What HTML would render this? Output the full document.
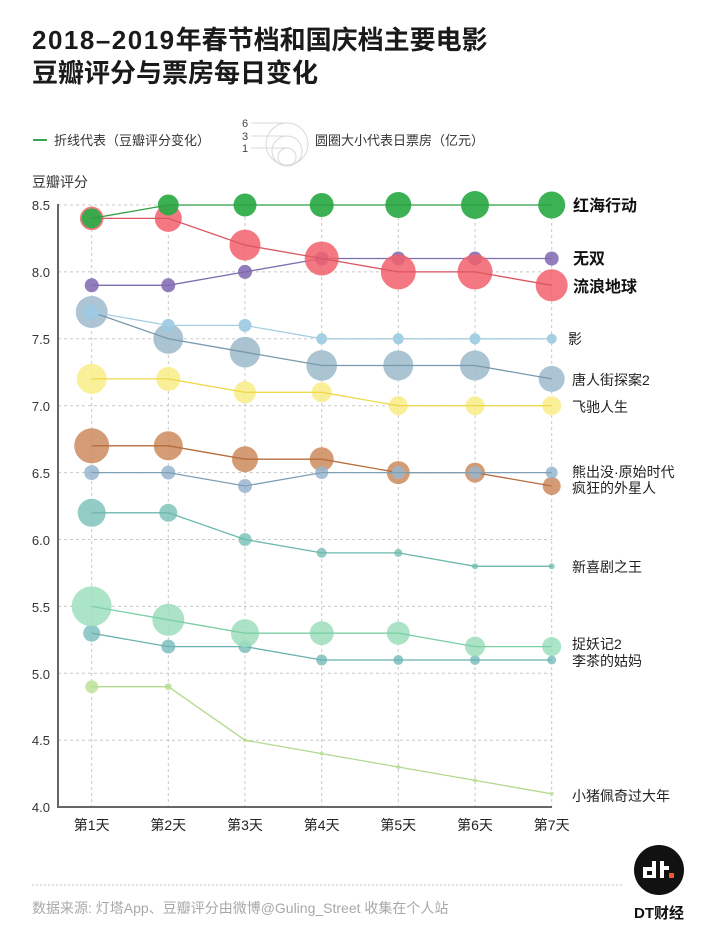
<!DOCTYPE html>
<html><head><meta charset="utf-8">
<style>
html,body{margin:0;padding:0;background:#fff;}
body{width:718px;height:933px;overflow:hidden;position:relative;font-family:"Liberation Sans","Noto Sans CJK SC",sans-serif;}
svg{position:absolute;left:0;top:0;}
</style></head>
<body>
<svg width="718" height="933" viewBox="0 0 718 933" xmlns="http://www.w3.org/2000/svg" font-family="Liberation Sans, Noto Sans CJK SC, sans-serif">
<rect width="718" height="933" fill="#fff"/>
<!-- Title -->
<text x="32" y="49" font-size="26" font-weight="bold" fill="#1a1a1a"><tspan letter-spacing="1.5">2018–2019</tspan>年春节档和国庆档主要电影</text>
<text x="32" y="82" font-size="26" font-weight="bold" fill="#1a1a1a">豆瓣评分与票房每日变化</text>

<!-- Legend -->
<line x1="33" y1="140" x2="47" y2="140" stroke="#3aa555" stroke-width="2"/>
<text x="54" y="145" font-size="13" fill="#333">折线代表（豆瓣评分变化）</text>
<text x="245" y="127" font-size="11" fill="#444" text-anchor="middle">6</text>
<text x="245" y="140" font-size="11" fill="#444" text-anchor="middle">3</text>
<text x="245" y="152" font-size="11" fill="#444" text-anchor="middle">1</text>
<g stroke="#d8d8d8" fill="none" stroke-width="1">
<line x1="251" y1="123" x2="287" y2="123"/>
<line x1="251" y1="136" x2="287" y2="136"/>
<line x1="251" y1="148" x2="287" y2="148"/>
<circle cx="287" cy="144" r="21"/>
<circle cx="287" cy="151" r="15"/>
<circle cx="287" cy="157" r="9"/>
</g>
<text x="315" y="145" font-size="13" fill="#333">圆圈大小代表日票房（亿元）</text>

<text x="32" y="187" font-size="14" fill="#333">豆瓣评分</text>

<!-- Grid -->
<g stroke="#c8c8c8" stroke-width="1" stroke-dasharray="3,3">
<line x1="58" y1="205" x2="552" y2="205"/>
<line x1="58" y1="271.9" x2="552" y2="271.9"/>
<line x1="58" y1="338.8" x2="552" y2="338.8"/>
<line x1="58" y1="405.7" x2="552" y2="405.7"/>
<line x1="58" y1="472.6" x2="552" y2="472.6"/>
<line x1="58" y1="539.5" x2="552" y2="539.5"/>
<line x1="58" y1="606.4" x2="552" y2="606.4"/>
<line x1="58" y1="673.3" x2="552" y2="673.3"/>
<line x1="58" y1="740.2" x2="552" y2="740.2"/>
<line x1="91.7" y1="205" x2="91.7" y2="807"/>
<line x1="168.3" y1="205" x2="168.3" y2="807"/>
<line x1="245" y1="205" x2="245" y2="807"/>
<line x1="321.7" y1="205" x2="321.7" y2="807"/>
<line x1="398.3" y1="205" x2="398.3" y2="807"/>
<line x1="475" y1="205" x2="475" y2="807"/>
<line x1="551.7" y1="205" x2="551.7" y2="807"/>
</g>
<!-- Axes -->
<line x1="58" y1="204" x2="58" y2="808" stroke="#666" stroke-width="2"/>
<line x1="57" y1="807" x2="552" y2="807" stroke="#666" stroke-width="2"/>

<!-- Y tick labels -->
<g font-size="13" fill="#333" text-anchor="end">
<text x="50" y="210">8.5</text>
<text x="50" y="277">8.0</text>
<text x="50" y="344">7.5</text>
<text x="50" y="411">7.0</text>
<text x="50" y="478">6.5</text>
<text x="50" y="545">6.0</text>
<text x="50" y="612">5.5</text>
<text x="50" y="679">5.0</text>
<text x="50" y="745">4.5</text>
<text x="50" y="812">4.0</text>
</g>
<!-- X labels -->
<g font-size="14" fill="#222" text-anchor="middle">
<text x="91.7" y="830">第1天</text>
<text x="168.3" y="830">第2天</text>
<text x="245" y="830">第3天</text>
<text x="321.7" y="830">第4天</text>
<text x="398.3" y="830">第5天</text>
<text x="475" y="830">第6天</text>
<text x="551.7" y="830">第7天</text>
</g>

<!-- 小猪佩奇过大年 -->
<g fill="#c3e5a2" opacity="0.95">
<circle cx="91.7" cy="686.7" r="6.5"/><circle cx="168.3" cy="686.7" r="3.5"/><circle cx="245" cy="740.2" r="2"/><circle cx="321.7" cy="753.6" r="2"/><circle cx="398.3" cy="767" r="2"/><circle cx="475" cy="780.4" r="2"/><circle cx="551.7" cy="793.8" r="2"/>
</g>
<polyline points="91.7,686.7 168.3,686.7 245,740.2 321.7,753.6 398.3,767 475,780.4 551.7,793.8" fill="none" stroke="#b3da8e" stroke-width="1.3"/>

<!-- 李茶的姑妈 -->
<g fill="#7fbfbf" opacity="0.85">
<circle cx="91.7" cy="633.2" r="8.5"/><circle cx="168.3" cy="646.6" r="7"/><circle cx="245" cy="646.6" r="6.5"/><circle cx="321.7" cy="660" r="5.5"/><circle cx="398.3" cy="660" r="5"/><circle cx="475" cy="660" r="5"/><circle cx="551.7" cy="660" r="4.5"/>
</g>
<polyline points="91.7,633.2 168.3,646.6 245,646.6 321.7,660 398.3,660 475,660 551.7,660" fill="none" stroke="#6ab2b0" stroke-width="1.3"/>

<!-- 捉妖记2 -->
<g fill="#9edfbe" opacity="0.85">
<circle cx="91.7" cy="606.4" r="20"/><circle cx="168.3" cy="619.8" r="16"/><circle cx="245" cy="633.2" r="14"/><circle cx="321.7" cy="633.2" r="12"/><circle cx="398.3" cy="633.2" r="11.5"/><circle cx="475" cy="646.6" r="10"/><circle cx="551.7" cy="646.6" r="9.5"/>
</g>
<polyline points="91.7,606.4 168.3,619.8 245,633.2 321.7,633.2 398.3,633.2 475,646.6 551.7,646.6" fill="none" stroke="#7ccfa6" stroke-width="1.3"/>

<!-- 新喜剧之王 -->
<g fill="#86c7bf" opacity="0.9">
<circle cx="91.7" cy="512.8" r="14"/><circle cx="168.3" cy="512.8" r="9"/><circle cx="245" cy="539.5" r="6.5"/><circle cx="321.7" cy="552.9" r="5"/><circle cx="398.3" cy="552.9" r="4"/><circle cx="475" cy="566.3" r="3"/><circle cx="551.7" cy="566.3" r="3"/>
</g>
<polyline points="91.7,512.8 168.3,512.8 245,539.5 321.7,552.9 398.3,552.9 475,566.3 551.7,566.3" fill="none" stroke="#6bb8ad" stroke-width="1.3"/>

<!-- 疯狂的外星人 -->
<g fill="#cd8b5e" opacity="0.85">
<circle cx="91.7" cy="445.8" r="17.5"/><circle cx="168.3" cy="445.8" r="14.5"/><circle cx="245" cy="459.2" r="13"/><circle cx="321.7" cy="459.2" r="12"/><circle cx="398.3" cy="472.6" r="11.5"/><circle cx="475" cy="472.6" r="10"/><circle cx="551.7" cy="486" r="9"/>
</g>
<polyline points="91.7,445.8 168.3,445.8 245,459.2 321.7,459.2 398.3,472.6 475,472.6 551.7,486" fill="none" stroke="#b66c3c" stroke-width="1.3"/>

<!-- 熊出没 -->
<g fill="#9ab6cf" opacity="0.85">
<circle cx="91.7" cy="472.6" r="7.5"/><circle cx="168.3" cy="472.6" r="7"/><circle cx="245" cy="486" r="7"/><circle cx="321.7" cy="472.6" r="6.5"/><circle cx="398.3" cy="472.6" r="6.5"/><circle cx="475" cy="472.6" r="6.5"/><circle cx="551.7" cy="472.6" r="6"/>
</g>
<polyline points="91.7,472.6 168.3,472.6 245,486 321.7,472.6 398.3,472.6 475,472.6 551.7,472.6" fill="none" stroke="#7f9fb5" stroke-width="1.3"/>

<!-- 飞驰人生 -->
<g fill="#faee8e" opacity="0.9">
<circle cx="91.7" cy="378.9" r="15"/><circle cx="168.3" cy="378.9" r="12"/><circle cx="245" cy="392.3" r="11"/><circle cx="321.7" cy="392.3" r="10"/><circle cx="398.3" cy="405.7" r="9.5"/><circle cx="475" cy="405.7" r="9.5"/><circle cx="551.7" cy="405.7" r="9.5"/>
</g>
<polyline points="91.7,378.9 168.3,378.9 245,392.3 321.7,392.3 398.3,405.7 475,405.7 551.7,405.7" fill="none" stroke="#eed84c" stroke-width="1.3"/>

<!-- 唐人街探案2 -->
<g fill="#a3bece" opacity="0.9">
<circle cx="91.7" cy="312" r="16"/><circle cx="168.3" cy="338.8" r="15"/><circle cx="245" cy="352.2" r="15.3"/><circle cx="321.7" cy="365.5" r="15.3"/><circle cx="398.3" cy="365.5" r="15"/><circle cx="475" cy="365.5" r="15"/><circle cx="551.7" cy="378.9" r="13"/>
</g>
<polyline points="91.7,312 168.3,338.8 245,352.2 321.7,365.5 398.3,365.5 475,365.5 551.7,378.9" fill="none" stroke="#7899ab" stroke-width="1.3"/>

<!-- 影 -->
<g fill="#9ccae3" opacity="0.9">
<circle cx="91.7" cy="312" r="7.5"/><circle cx="168.3" cy="325.4" r="6.5"/><circle cx="245" cy="325.4" r="6.5"/><circle cx="321.7" cy="338.8" r="5.5"/><circle cx="398.3" cy="338.8" r="5.5"/><circle cx="475" cy="338.8" r="5.5"/><circle cx="551.7" cy="338.8" r="5"/>
</g>
<polyline points="91.7,312 168.3,325.4 245,325.4 321.7,338.8 398.3,338.8 475,338.8 551.7,338.8" fill="none" stroke="#a6cfe2" stroke-width="1.3"/>

<!-- 无双 -->
<g fill="#8670b5" opacity="0.9">
<circle cx="91.7" cy="285.3" r="7"/><circle cx="168.3" cy="285.3" r="7"/><circle cx="245" cy="271.9" r="7"/><circle cx="321.7" cy="258.5" r="7"/><circle cx="398.3" cy="258.5" r="7"/><circle cx="475" cy="258.5" r="7"/><circle cx="551.7" cy="258.5" r="7"/>
</g>
<polyline points="91.7,285.3 168.3,285.3 245,271.9 321.7,258.5 398.3,258.5 475,258.5 551.7,258.5" fill="none" stroke="#7e6cb0" stroke-width="1.3"/>

<!-- 流浪地球 -->
<g fill="#f2616c" opacity="0.85">
<circle cx="91.7" cy="218.4" r="11"/><circle cx="168.3" cy="218.4" r="13.5"/><circle cx="245" cy="245.1" r="15.5"/><circle cx="321.7" cy="258.5" r="17"/><circle cx="398.3" cy="271.9" r="17.5"/><circle cx="475" cy="271.9" r="17.5"/><circle cx="551.7" cy="285.3" r="16"/>
</g>
<circle cx="91.7" cy="218.4" r="11" fill="none" stroke="#f07a80" stroke-width="1.5"/>
<polyline points="91.7,218.4 168.3,218.4 245,245.1 321.7,258.5 398.3,271.9 475,271.9 551.7,285.3" fill="none" stroke="#dc5662" stroke-width="1.3"/>

<!-- 红海行动 -->
<g fill="#2bab46" opacity="0.92">
<circle cx="91.7" cy="218.4" r="10"/><circle cx="168.3" cy="205" r="10.5"/><circle cx="245" cy="205" r="11.5"/><circle cx="321.7" cy="205" r="12"/><circle cx="398.3" cy="205" r="13"/><circle cx="475" cy="205" r="14"/><circle cx="551.7" cy="205" r="13.5"/>
</g>
<polyline points="91.7,218.4 168.3,205 245,205 321.7,205 398.3,205 475,205 551.7,205" fill="none" stroke="#2f9e46" stroke-width="1.3"/>

<!-- Right labels -->
<g fill="#111" font-weight="bold" font-size="16">
<text x="573" y="211">红海行动</text>
<text x="573" y="264">无双</text>
<text x="573" y="292">流浪地球</text>
</g>
<g fill="#222" font-size="14">
<text x="568" y="344">影</text>
<text x="572" y="385">唐人街探案2</text>
<text x="572" y="412">飞驰人生</text>
<text x="572" y="477">熊出没·原始时代</text>
<text x="572" y="493">疯狂的外星人</text>
<text x="572" y="572">新喜剧之王</text>
<text x="572" y="649">捉妖记2</text>
<text x="572" y="666">李茶的姑妈</text>
<text x="572" y="801">小猪佩奇过大年</text>
</g>

<!-- Footer -->
<line x1="32" y1="885" x2="623" y2="885" stroke="#c8c8c8" stroke-width="1" stroke-dasharray="2,2"/>
<text x="32" y="913" font-size="14" fill="#a8a8a8">数据来源: 灯塔App、豆瓣评分由微博@Guling_Street 收集在个人站</text>

<!-- Logo -->
<circle cx="659" cy="870" r="25" fill="#111"/>
<g fill="#fff">
<rect x="643" y="867" width="13" height="11"/>
<rect x="652" y="861" width="4" height="17"/>
<rect x="660" y="861" width="4" height="17"/>
<rect x="660" y="866" width="9" height="4"/>
</g>
<rect x="647" y="871" width="5" height="4" fill="#111"/>
<rect x="669" y="873" width="5" height="5" fill="#f05a28"/>
<text x="659" y="918" font-size="15" font-weight="bold" fill="#111" text-anchor="middle">DT财经</text>
</svg>
</body></html>
